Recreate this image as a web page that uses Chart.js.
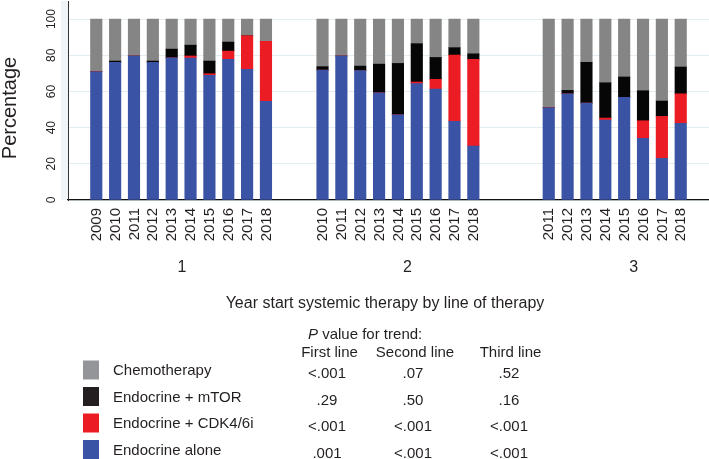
<!DOCTYPE html>
<html><head><meta charset="utf-8">
<script src="https://cdn.jsdelivr.net/npm/chart.js@4"></script>
<style>html,body{margin:0;padding:0;background:#fff;}canvas{display:block;}</style>
</head><body>
<canvas id="c" width="709" height="459"></canvas>
<script>
// ---------- DATA ----------
const lineGroups = ['1', '2', '3'];
const years1 = ['2009','2010','2011','2012','2013','2014','2015','2016','2017','2018'];
const years2 = ['2010','2011','2012','2013','2014','2015','2016','2017','2018'];
const years3 = ['2011','2012','2013','2014','2015','2016','2017','2018'];

// Line 1
const endoAlone1 = [70.9, 76.1, 79.6, 76.1, 78.6, 78.5, 68.9, 77.7, 72.2, 54.5];
const endoCdk1   = [0,    0,    0,    0,    0,    1.1,  0.9,  4.6,  18.6, 33.2];
const endoMtor1  = [0,    0.7,  0,    0.7,  4.8,  6.0,  7.0,  5.0,  0,    0];
const chemo1     = [29.1, 23.2, 20.4, 23.2, 16.6, 14.4, 23.2, 12.7, 9.2,  12.3];
// Line 2
const endoAlone2 = [71.8, 79.6, 71.5, 59.3, 47.1, 64.3, 61.3, 43.5, 29.8];
const endoCdk2   = [0,    0,    0,    0,    0,    0.9,  5.4,  36.6, 47.9];
const endoMtor2  = [1.9,  0,    2.5,  15.8, 28.4, 21.2, 12.1, 4.1,  3.1];
const chemo2     = [26.3, 20.4, 26.0, 24.9, 24.5, 13.6, 21.2, 15.8, 19.2];
// Line 3
const endoAlone3 = [51.0, 58.7, 53.6, 44.2, 56.7, 34.1, 23.0, 42.4];
const endoCdk3   = [0,    0,    0,    1.1,  0,    9.7,  23.2, 16.3];
const endoMtor3  = [0,    1.9,  22.5, 19.5, 11.3, 16.6, 8.5,  14.8];
const chemo3     = [49.0, 39.4, 23.9, 35.2, 32.0, 39.6, 45.3, 26.5];

const yTicks = [0, 20, 40, 60, 80, 100];

const seriesNames = ['Chemotherapy', 'Endocrine + mTOR', 'Endocrine + CDK4/6i', 'Endocrine alone'];
const trendColumns = ['First line', 'Second line', 'Third line'];
const pFirst  = ['<.001', '.29', '<.001', '.001'];
const pSecond = ['.07', '.50', '<.001', '<.001'];
const pThird  = ['.52', '.16', '<.001', '<.001'];

// ---------- STYLE / LAYOUT ----------
const FONT = '"Liberation Sans", Arial, Helvetica, sans-serif';
const TXT = '#231f20';
const COLORS = { chemo: '#858585', mtor: '#060606', cdk: '#ec1c24', alone: '#3a53a4' };
const SWATCH = ['#939598', '#231f20', '#ec1c24', '#3a53a4'];
const spacers = [1, 2, 3, 1];           // empty slots before group 1, between groups, after group 3
const groupLabelSlot = [5.55, 17.5, 29.5];

// ---------- BUILD CATEGORY AXIS ----------
const groups = [
  { years: years1, a: endoAlone1, c: endoCdk1, m: endoMtor1, h: chemo1 },
  { years: years2, a: endoAlone2, c: endoCdk2, m: endoMtor2, h: chemo2 },
  { years: years3, a: endoAlone3, c: endoCdk3, m: endoMtor3, h: chemo3 }
];
const labels = [], dAlone = [], dCdk = [], dMtor = [], dChemo = [];
function pushBlank(n) { for (let i = 0; i < n; i++) { labels.push(''); dAlone.push(null); dCdk.push(null); dMtor.push(null); dChemo.push(null); } }
groups.forEach((g, gi) => {
  pushBlank(spacers[gi]);
  g.years.forEach((y, i) => { labels.push(y); dAlone.push(g.a[i]); dCdk.push(g.c[i]); dMtor.push(g.m[i]); dChemo.push(g.h[i]); });
});
pushBlank(spacers[3]);

const decor = {
  id: 'decor',
  beforeDraw(chart) {
    const ctx = chart.ctx, a = chart.chartArea;
    ctx.save();
    ctx.fillStyle = '#ffffff';
    ctx.fillRect(0, 0, chart.width, chart.height);
    ctx.fillStyle = '#eef4f7';
    ctx.fillRect(a.left - 7, a.top, 7, a.bottom - a.top);
    ctx.restore();
  },
  afterDraw(chart) {
    const ctx = chart.ctx, a = chart.chartArea;
    const xs = chart.scales.x, ys = chart.scales.y;
    ctx.save();
    ctx.fillStyle = TXT;
    // y tick labels (rotated)
    ctx.font = '12px ' + FONT;
    ctx.textAlign = 'center'; ctx.textBaseline = 'middle';
    yTicks.forEach(v => {
      ctx.save();
      ctx.translate(a.left - 16, ys.getPixelForValue(v));
      ctx.rotate(-Math.PI / 2);
      ctx.fillText(String(v), 0, 0);
      ctx.restore();
    });
    // y axis title
    ctx.font = '20px ' + FONT;
    ctx.save();
    ctx.translate(10, 108);
    ctx.rotate(-Math.PI / 2);
    ctx.fillText('Percentage', 0, 0);
    ctx.restore();
    // year labels
    ctx.font = '15px ' + FONT;
    ctx.textAlign = 'right'; ctx.textBaseline = 'middle';
    labels.forEach((l, i) => {
      if (!l) return;
      ctx.save();
      ctx.translate(xs.getPixelForValue(i), a.bottom + 8);
      ctx.rotate(-Math.PI / 2);
      ctx.fillText(l, 0, 0.5);
      ctx.restore();
    });
    // group labels
    ctx.font = '16px ' + FONT;
    ctx.textAlign = 'center';
    lineGroups.forEach((g, i) => ctx.fillText(g, xs.getPixelForValue(groupLabelSlot[i]), 268));
    // x title
    ctx.fillText('Year start systemic therapy by line of therapy', 385, 304);
    // P value header
    ctx.font = 'italic 15px ' + FONT;
    ctx.textAlign = 'left';
    ctx.fillText('P', 308, 335);
    const pw = ctx.measureText('P').width;
    ctx.font = '15px ' + FONT;
    ctx.fillText(' value for trend:', 308 + pw, 335);
    ctx.textAlign = 'center';
    const colX = [329.5, 415, 510.5];
    trendColumns.forEach((t, i) => ctx.fillText(t, colX[i], 353));
    // legend rows
    const rowY = [370, 396.5, 423, 449.5];
    const valX = [327, 413, 509];
    const cols = [pFirst, pSecond, pThird];
    seriesNames.forEach((n, r) => {
      ctx.fillStyle = SWATCH[r];
      ctx.fillRect(83, rowY[r] - 9.5, 16, 19);
      ctx.fillStyle = TXT;
      ctx.textAlign = 'left';
      ctx.fillText(n, 113, rowY[r] + 1);
      ctx.textAlign = 'center';
      cols.forEach((c, ci) => ctx.fillText(c[r], valX[ci], rowY[r] + 4));
    });
    ctx.restore();
  }
};

new Chart(document.getElementById('c'), {
  type: 'bar',
  data: {
    labels: labels,
    datasets: [
      { label: seriesNames[3], data: dAlone, backgroundColor: COLORS.alone },
      { label: seriesNames[2], data: dCdk, backgroundColor: COLORS.cdk },
      { label: seriesNames[1], data: dMtor, backgroundColor: COLORS.mtor },
      { label: seriesNames[0], data: dChemo, backgroundColor: COLORS.chemo }
    ]
  },
  options: {
    responsive: false,
    animation: false,
    devicePixelRatio: 1,
    layout: { padding: { left: 68, right: 0, top: 1, bottom: 259 } },
    datasets: { bar: { barThickness: 11.5, borderWidth: 0 } },
    plugins: { legend: { display: false }, tooltip: { enabled: false } },
    scales: {
      x: {
        stacked: true,
        grid: { display: false, drawTicks: false },
        ticks: { display: false },
        border: { display: true, color: '#111', width: 1.3 }
      },
      y: {
        stacked: true,
        min: 0, max: 110,
        afterBuildTicks: s => { s.ticks = yTicks.map(v => ({ value: v })); },
        grid: { color: '#e2ecf1', lineWidth: 1, drawTicks: false },
        ticks: { display: false },
        border: { display: true, color: '#333', width: 1 }
      }
    }
  },
  plugins: [decor]
});
</script>
</body></html>
